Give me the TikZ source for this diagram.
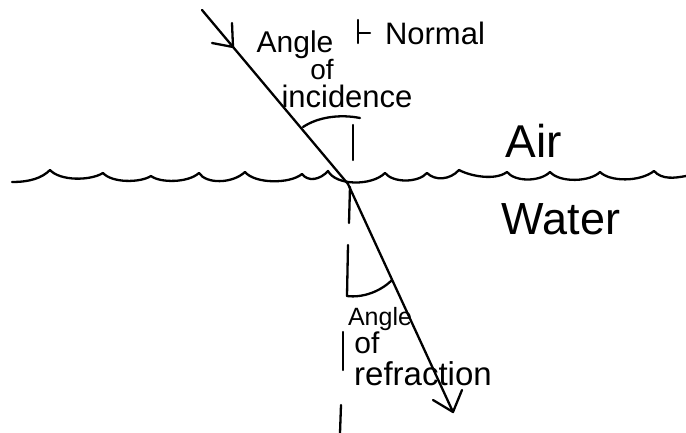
\documentclass[tikz,border=0pt]{standalone}
\usepackage{fontspec}
\setmainfont{Liberation Sans}
\begin{document}
\begin{tikzpicture}[x=1pt,y=-1pt,
  ink/.style={line width=2.3pt,line cap=round,line join=round,black},
  lbl/.style={inner sep=0pt,anchor=base}]
\useasboundingbox (0,0) rectangle (686,433);
% key points
\coordinate (src) at (202,10);
\coordinate (o) at (348,184);
\coordinate (tip) at (453,412);
% water surface
\draw[ink] (12,182) .. controls (30,182) and (42,178) .. (50,170)
  .. controls (60,181) and (90,181) .. (103,173)
  .. controls (112,183) and (140,183) .. (151,176)
  .. controls (160,183) and (188,183) .. (199,173)
  .. controls (206,184) and (232,184) .. (245,172)
  .. controls (255,184) and (290,184) .. (302,174)
  .. controls (308,182) and (320,180) .. (328,171)
  .. controls (336,186) and (372,186) .. (385,173)
  .. controls (393,183) and (418,183) .. (427,173)
  .. controls (435,181) and (450,180) .. (459,170)
  .. controls (470,176) and (495,181) .. (507,172)
  .. controls (515,182) and (540,182) .. (550,172)
  .. controls (560,183) and (590,182) .. (600,172)
  .. controls (610,182) and (640,182) .. (654,171)
  .. controls (662,180) and (675,178) .. (686,176);
% incident ray
\draw[ink] (src) -- (o);
\coordinate (ah) at (233,47);
\draw[ink] (232,23) -- (ah) -- (212,43);
% refracted ray
\draw[ink] (o) -- (tip);
\draw[ink] (433,400) -- (tip) -- (462,390);
% normal (dashed by hand)
\draw[ink] (353,125) -- (353,160);
\draw[ink] (350,187) -- (349,223);
\draw[ink] (348,245) -- (347,296);
\draw[ink] (343,332) -- (343,370);
\draw[ink] (341,405) -- (340,433);
\draw[ink] (358,20) -- (358,43);
\draw[ink] (358,33) -- (370,33);
% angle arcs
\draw[ink] (303,127) .. controls (318,117) and (340,114) .. (360,118);
\draw[ink] (347,296) .. controls (362,298) and (380,292) .. (392,280);
% labels
\node[lbl,font=\fontsize{30}{30}\selectfont] (angI) at (295,53) {Angle};
\node[lbl,font=\fontsize{28}{28}\selectfont] (ofI) at (322,80) {of};
\node[lbl,font=\fontsize{31}{31}\selectfont] (incI) at (347,108) {incidence};
\node[lbl,font=\fontsize{31}{31}\selectfont] (norm) at (435,45) {Normal};
\node[lbl,font=\fontsize{46}{46}\selectfont] (air) at (534,158) {Air};
\node[lbl,font=\fontsize{45}{45}\selectfont] (water) at (561,235) {Water};
\node[lbl,font=\fontsize{25}{25}\selectfont] (angR) at (380,325) {Angle};
\node[lbl,font=\fontsize{30}{30}\selectfont] (ofR) at (367,353) {of};
\node[lbl,font=\fontsize{33}{33}\selectfont] (refR) at (423,385) {refraction};
\end{tikzpicture}
\end{document}
